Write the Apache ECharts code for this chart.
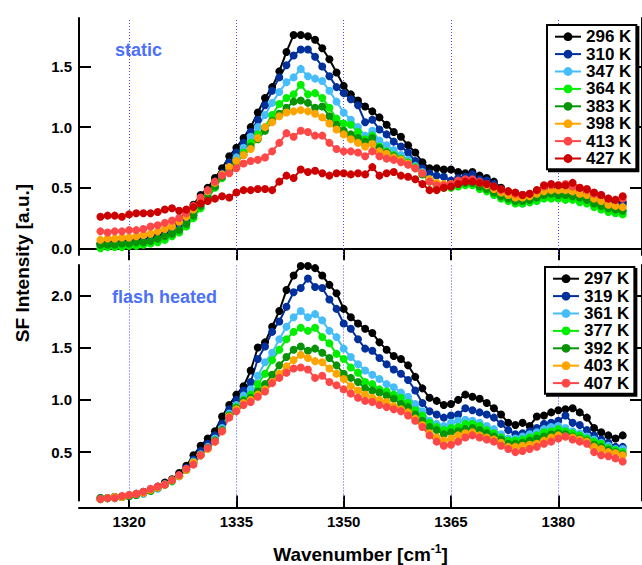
<!DOCTYPE html>
<html><head><meta charset="utf-8">
<script src="https://cdn.jsdelivr.net/npm/echarts@6/dist/echarts.min.js"></script>
<style>html,body{margin:0;padding:0;background:#fff}#c{width:642px;height:565px}</style>
</head><body><div id="c"></div>
<script>
// ---- data ----
const wavenumbers = [1316,1317,1318,1319,1320,1321,1322,1323,1324,1325,
  1326,1327,1328,1329,1330,1331,1332,1333,1334,1335,
  1336,1337,1338,1339,1340,1341,1342,1343,1344,1345,
  1346,1347,1348,1349,1350,1351,1352,1353,1354,1355,
  1356,1357,1358,1359,1360,1361,1362,1363,1364,1365,
  1366,1367,1368,1369,1370,1371,1372,1373,1374,1375,
  1376,1377,1378,1379,1380,1381,1382,1383,1384,1385,
  1386,1387,1388,1389];

const xTicks = [1320, 1335, 1350, 1365, 1380];
const staticYTicks = [0, 0.5, 1.0, 1.5];
const flashYTicks = [0.5, 1.0, 1.5, 2.0];

const staticNames = ['296 K','310 K','347 K','364 K','383 K','398 K','413 K','427 K'];
const flashNames = ['297 K','319 K','361 K','377 K','392 K','403 K','407 K'];

// static (top panel)
const s296 = [0.04,0.04,0.05,0.05,0.06,0.06,0.07,0.08,0.10,0.12,
  0.15,0.20,0.27,0.36,0.44,0.50,0.58,0.66,0.76,0.83,
  0.91,1.00,1.12,1.24,1.33,1.46,1.62,1.76,1.76,1.75,
  1.72,1.65,1.56,1.45,1.34,1.27,1.22,1.17,1.13,1.08,
  1.02,0.96,0.92,0.85,0.79,0.71,0.66,0.66,0.65,0.65,
  0.63,0.62,0.63,0.60,0.58,0.55,0.50,0.47,0.45,0.44,
  0.43,0.46,0.49,0.50,0.50,0.50,0.49,0.47,0.46,0.43,
  0.41,0.38,0.37,0.38];
const s310 = [0.03,0.03,0.04,0.04,0.05,0.05,0.06,0.07,0.09,0.11,
  0.14,0.18,0.24,0.32,0.40,0.47,0.55,0.62,0.71,0.79,
  0.87,0.96,1.06,1.18,1.30,1.41,1.51,1.59,1.64,1.64,
  1.58,1.50,1.42,1.33,1.28,1.23,1.18,1.04,1.06,0.98,
  0.94,0.88,0.84,0.79,0.72,0.66,0.62,0.60,0.59,0.56,
  0.58,0.59,0.61,0.57,0.56,0.53,0.49,0.46,0.43,0.42,
  0.42,0.44,0.47,0.48,0.48,0.49,0.48,0.46,0.45,0.42,
  0.40,0.37,0.36,0.36];
const s347 = [0.02,0.02,0.03,0.03,0.04,0.04,0.05,0.06,0.07,0.09,
  0.12,0.15,0.20,0.27,0.35,0.43,0.51,0.59,0.67,0.75,
  0.83,0.92,1.00,1.10,1.20,1.29,1.37,1.41,1.48,1.42,
  1.40,1.38,1.30,1.21,1.12,1.06,1.00,0.93,0.97,0.89,
  0.85,0.81,0.77,0.73,0.68,0.63,0.57,0.53,0.52,0.52,
  0.53,0.54,0.55,0.52,0.50,0.47,0.44,0.41,0.38,0.37,
  0.38,0.40,0.42,0.43,0.43,0.43,0.42,0.41,0.40,0.37,
  0.35,0.32,0.31,0.31];
const s364 = [0.00,0.01,0.01,0.01,0.02,0.02,0.03,0.04,0.05,0.07,
  0.10,0.13,0.18,0.25,0.33,0.41,0.50,0.58,0.65,0.72,
  0.79,0.87,0.94,1.00,1.10,1.19,1.24,1.27,1.35,1.27,
  1.28,1.24,1.16,1.07,1.03,1.02,0.96,0.90,0.93,0.84,
  0.80,0.77,0.74,0.71,0.67,0.61,0.55,0.51,0.50,0.50,
  0.51,0.52,0.52,0.49,0.47,0.44,0.41,0.39,0.37,0.37,
  0.38,0.39,0.41,0.41,0.41,0.40,0.40,0.38,0.37,0.34,
  0.32,0.30,0.29,0.28];
const s383 = [0.03,0.03,0.03,0.04,0.04,0.05,0.05,0.06,0.08,0.10,
  0.12,0.15,0.20,0.27,0.35,0.42,0.51,0.59,0.65,0.71,
  0.77,0.84,0.90,0.97,1.05,1.11,1.16,1.21,1.22,1.20,
  1.16,1.17,1.09,1.02,0.97,0.94,0.91,0.88,0.91,0.83,
  0.79,0.76,0.73,0.70,0.66,0.61,0.56,0.53,0.52,0.52,
  0.53,0.54,0.54,0.51,0.49,0.46,0.43,0.41,0.39,0.39,
  0.40,0.42,0.44,0.45,0.44,0.44,0.43,0.42,0.40,0.37,
  0.35,0.33,0.32,0.31];
const s398 = [0.07,0.08,0.08,0.09,0.09,0.10,0.11,0.12,0.14,0.16,
  0.18,0.22,0.26,0.32,0.40,0.47,0.54,0.61,0.67,0.72,
  0.77,0.82,0.91,1.00,1.04,1.09,1.12,1.13,1.14,1.13,
  1.11,1.08,1.03,0.98,0.94,0.90,0.87,0.84,0.86,0.80,
  0.78,0.75,0.73,0.70,0.66,0.62,0.57,0.54,0.53,0.53,
  0.55,0.56,0.56,0.54,0.52,0.49,0.46,0.44,0.42,0.42,
  0.43,0.45,0.47,0.48,0.48,0.48,0.47,0.45,0.44,0.41,
  0.39,0.36,0.35,0.34];
const s413 = [0.14,0.13,0.14,0.14,0.15,0.15,0.16,0.18,0.19,0.21,
  0.23,0.25,0.29,0.35,0.42,0.48,0.55,0.60,0.62,0.66,
  0.70,0.72,0.73,0.75,0.80,0.87,0.95,0.92,0.97,0.96,
  0.93,0.93,0.87,0.82,0.80,0.80,0.79,0.76,0.80,0.76,
  0.74,0.73,0.71,0.69,0.66,0.62,0.55,0.52,0.52,0.53,
  0.56,0.57,0.57,0.55,0.53,0.51,0.48,0.47,0.45,0.44,
  0.45,0.48,0.51,0.52,0.52,0.53,0.51,0.50,0.48,0.45,
  0.44,0.41,0.40,0.41];
const s427 = [0.26,0.27,0.27,0.26,0.28,0.29,0.29,0.29,0.30,0.32,
  0.33,0.31,0.32,0.34,0.37,0.39,0.41,0.43,0.42,0.46,
  0.48,0.48,0.49,0.49,0.48,0.55,0.60,0.58,0.65,0.63,
  0.64,0.62,0.60,0.62,0.62,0.61,0.62,0.61,0.67,0.60,
  0.62,0.63,0.60,0.59,0.57,0.53,0.48,0.48,0.50,0.51,
  0.53,0.55,0.55,0.54,0.53,0.51,0.49,0.47,0.46,0.44,
  0.45,0.48,0.52,0.53,0.52,0.52,0.54,0.50,0.49,0.46,
  0.44,0.41,0.40,0.43];

// flash heated (bottom panel)
const f297 = [0.06,0.06,0.07,0.07,0.08,0.10,0.12,0.14,0.17,0.21,
  0.24,0.30,0.37,0.47,0.56,0.63,0.70,0.84,0.95,1.05,
  1.13,1.28,1.50,1.55,1.70,1.85,2.05,2.19,2.28,2.28,
  2.26,2.19,2.10,2.02,1.87,1.79,1.73,1.68,1.64,1.55,
  1.48,1.42,1.39,1.33,1.22,1.11,1.02,0.99,0.95,0.96,
  1.00,1.05,1.03,1.01,0.97,0.92,0.86,0.78,0.76,0.78,
  0.75,0.84,0.85,0.88,0.90,0.91,0.92,0.88,0.83,0.73,
  0.69,0.66,0.63,0.66];
const f319 = [0.06,0.06,0.07,0.07,0.08,0.10,0.11,0.14,0.16,0.20,
  0.23,0.28,0.35,0.43,0.51,0.58,0.66,0.77,0.91,1.00,
  1.09,1.17,1.39,1.51,1.65,1.75,1.89,2.03,2.07,2.16,
  2.08,2.07,1.96,1.87,1.73,1.68,1.58,1.49,1.47,1.40,
  1.34,1.29,1.25,1.19,1.09,0.97,0.89,0.86,0.83,0.85,
  0.86,0.92,0.90,0.88,0.86,0.83,0.77,0.71,0.67,0.68,
  0.70,0.73,0.77,0.78,0.80,0.85,0.78,0.76,0.71,0.66,
  0.62,0.59,0.55,0.55];
const f361 = [0.05,0.06,0.06,0.07,0.08,0.09,0.10,0.13,0.15,0.19,
  0.22,0.27,0.33,0.41,0.48,0.55,0.63,0.73,0.87,0.95,
  1.04,1.10,1.23,1.36,1.45,1.58,1.70,1.79,1.85,1.79,
  1.82,1.76,1.66,1.60,1.49,1.41,1.34,1.28,1.24,1.20,
  1.15,1.12,1.07,1.03,0.96,0.89,0.80,0.77,0.75,0.78,
  0.80,0.81,0.80,0.78,0.75,0.72,0.67,0.63,0.63,0.65,
  0.67,0.69,0.72,0.74,0.75,0.73,0.70,0.68,0.65,0.62,
  0.59,0.56,0.53,0.53];
const f377 = [0.05,0.06,0.06,0.07,0.08,0.09,0.11,0.13,0.16,0.19,
  0.22,0.27,0.33,0.40,0.47,0.54,0.61,0.71,0.85,0.93,
  1.00,1.05,1.15,1.25,1.38,1.48,1.58,1.65,1.69,1.66,
  1.69,1.60,1.54,1.44,1.39,1.31,1.26,1.17,1.15,1.10,
  1.08,1.05,1.02,0.97,0.90,0.85,0.78,0.74,0.71,0.73,
  0.74,0.77,0.77,0.75,0.71,0.68,0.64,0.61,0.61,0.62,
  0.64,0.66,0.69,0.70,0.72,0.70,0.68,0.66,0.63,0.60,
  0.58,0.54,0.52,0.50];
const f392 = [0.06,0.06,0.07,0.07,0.08,0.09,0.11,0.13,0.16,0.19,
  0.23,0.27,0.33,0.40,0.47,0.54,0.61,0.71,0.85,0.92,
  0.99,1.02,1.08,1.15,1.24,1.33,1.41,1.48,1.51,1.47,
  1.49,1.45,1.40,1.33,1.25,1.21,1.17,1.11,1.09,1.07,
  1.04,1.01,0.96,0.93,0.86,0.80,0.74,0.71,0.67,0.69,
  0.70,0.72,0.73,0.71,0.68,0.65,0.62,0.58,0.58,0.59,
  0.61,0.63,0.65,0.67,0.68,0.67,0.65,0.63,0.61,0.57,
  0.55,0.52,0.50,0.48];
const f403 = [0.05,0.06,0.07,0.07,0.09,0.10,0.11,0.14,0.16,0.19,
  0.23,0.27,0.33,0.40,0.47,0.53,0.60,0.70,0.84,0.91,
  0.97,1.00,1.05,1.10,1.17,1.25,1.32,1.38,1.43,1.40,
  1.37,1.36,1.30,1.25,1.20,1.13,1.09,1.05,1.02,1.00,
  0.98,0.94,0.91,0.88,0.82,0.76,0.68,0.64,0.61,0.63,
  0.66,0.68,0.69,0.66,0.64,0.62,0.59,0.55,0.55,0.56,
  0.57,0.58,0.61,0.64,0.66,0.65,0.64,0.62,0.60,0.55,
  0.53,0.50,0.49,0.47];
const f407 = [0.05,0.06,0.06,0.08,0.09,0.10,0.12,0.15,0.17,0.19,
  0.23,0.28,0.34,0.38,0.47,0.54,0.60,0.70,0.83,0.89,
  0.95,0.98,1.03,1.08,1.16,1.21,1.26,1.30,1.31,1.29,
  1.21,1.23,1.17,1.14,1.10,1.06,1.02,0.99,0.98,0.95,
  0.93,0.91,0.89,0.85,0.80,0.74,0.66,0.60,0.56,0.57,
  0.60,0.64,0.66,0.64,0.62,0.60,0.56,0.53,0.50,0.51,
  0.53,0.55,0.58,0.60,0.63,0.65,0.62,0.60,0.58,0.50,
  0.47,0.46,0.44,0.41];

const staticData = [s296, s310, s347, s364, s383, s398, s413, s427];
const flashData = [f297, f319, f361, f377, f392, f403, f407];
const palette = ['#000000','#00309c','#45bdfb','#00ee00','#079407','#ffa500','#ff4747','#cc0000'];

// ---- chart ----
const FONT = "'Liberation Sans', Arial, Helvetica, sans-serif";
const chart = echarts.init(document.getElementById('c'), null, {renderer: 'svg'});

const gridLine = {
  silent: true, symbol: 'none', z: 1, animation: false,
  label: {show: false},
  lineStyle: {color: '#4d4dff', type: [1, 2], width: 1},
  emphasis: {disabled: true},
  data: xTicks.map(v => ({xAxis: v}))
};

function mkSeries(name, vals, color, xi, yi, withGrid) {
  const s = {
    name, type: 'line', xAxisIndex: xi, yAxisIndex: yi,
    data: wavenumbers.map((w, i) => [w, vals[i]]),
    symbol: 'circle', symbolSize: 8, showSymbol: true,
    color: color,
    lineStyle: {width: 2, color: color},
    itemStyle: {color: color},
    emphasis: {disabled: true},
    animation: false
  };
  if (withGrid) s.markLine = gridLine;
  return s;
}

const series = [];
staticNames.forEach((n, i) => series.push(mkSeries(n, staticData[i], palette[i], 0, 0, i === 0)));
flashNames.forEach((n, i) => series.push(mkSeries(n, flashData[i], palette[i], 1, 2, i === 0)));

const axisLine = {show: true, lineStyle: {color: '#000', width: 2}};
const tickLabelStyle = {color: '#000', fontSize: 15, fontWeight: 'bold', fontFamily: FONT};
const XMIN = 1313, XMAX = 1391.7;

function yAx(grid, pos, min, max, ticks, labels) {
  return {
    type: 'value', gridIndex: grid, position: pos, min: min, max: max,
    axisLine: axisLine,
    axisTick: {show: true, inside: true, length: 12, customValues: ticks, lineStyle: {color: '#000', width: 2}},
    axisLabel: labels ? Object.assign({show: true, margin: 7, customValues: ticks,
      formatter: v => Number(v).toFixed(1)}, tickLabelStyle) : {show: false},
    splitLine: {show: false}
  };
}

const legendCommon = {
  orient: 'vertical', align: 'left',
  itemWidth: 26, itemHeight: 11, itemGap: 0,
  padding: [3, 5, 2, 7],
  borderColor: '#000', borderWidth: 2, borderRadius: 0,
  backgroundColor: '#fff',
  shadowColor: '#000', shadowOffsetX: 2, shadowOffsetY: 2, shadowBlur: 0,
  textStyle: {color: '#000', fontSize: 17, fontWeight: 'bold', fontFamily: FONT, lineHeight: 17.4},
  selectedMode: false
};

chart.setOption({
  animation: false,
  backgroundColor: '#fff',
  grid: [
    {left: 79, top: 18, width: 569, height: 237},
    {left: 79, top: 265, width: 569, height: 237}
  ],
  xAxis: [
    {
      type: 'value', gridIndex: 0, position: 'top', offset: 6, min: XMIN, max: XMAX,
      axisLine: axisLine,
      axisTick: {show: true, inside: true, length: 12, customValues: xTicks, lineStyle: {color: '#000', width: 2}},
      axisLabel: {show: false},
      splitLine: {show: false}
    },
    {
      type: 'value', gridIndex: 1, position: 'bottom', offset: 7, min: XMIN, max: XMAX,
      axisLine: axisLine,
      axisTick: {show: true, inside: true, length: 12, customValues: xTicks, lineStyle: {color: '#000', width: 2}},
      axisLabel: Object.assign({show: true, margin: 6, customValues: xTicks, formatter: v => String(v)}, tickLabelStyle),
      splitLine: {show: false},
      name: '{a|Wavenumber [cm}{s|-1}{a|]}',
      nameLocation: 'middle', nameGap: 35,
      nameTextStyle: {
        rich: {
          a: {fontSize: 19, fontWeight: 'bold', fontFamily: FONT, color: '#000', lineHeight: 24},
          s: {fontSize: 12, fontWeight: 'bold', fontFamily: FONT, color: '#000', lineHeight: 12, verticalAlign: 'top'}
        }
      }
    }
  ],
  yAxis: [
    yAx(0, 'left', -0.055, 1.90, staticYTicks, true),
    yAx(0, 'right', -0.055, 1.90, staticYTicks, false),
    yAx(1, 'left', 0.037, 2.29, flashYTicks, true),
    yAx(1, 'right', 0.037, 2.29, flashYTicks, false)
  ],
  legend: [
    Object.assign({data: staticNames, left: 547, top: 25}, legendCommon),
    Object.assign({data: flashNames, left: 545, top: 267}, legendCommon)
  ],
  graphic: [
    {type: 'text', x: 22, y: 263, rotation: Math.PI / 2, silent: true,
      style: {text: 'SF Intensity [a.u.]', font: 'bold 19px ' + FONT, fill: '#000',
        align: 'center', verticalAlign: 'middle', textAlign: 'center', textVerticalAlign: 'middle'}},
    {type: 'text', x: 115, y: 50, silent: true,
      style: {text: 'static', font: 'bold 18px ' + FONT, fill: '#4d70f8',
        align: 'left', verticalAlign: 'middle', textAlign: 'left', textVerticalAlign: 'middle'}},
    {type: 'text', x: 112, y: 297, silent: true,
      style: {text: 'flash heated', font: 'bold 18px ' + FONT, fill: '#4d70f8',
        align: 'left', verticalAlign: 'middle', textAlign: 'left', textVerticalAlign: 'middle'}}
  ],
  series: series
});
</script></body></html>
